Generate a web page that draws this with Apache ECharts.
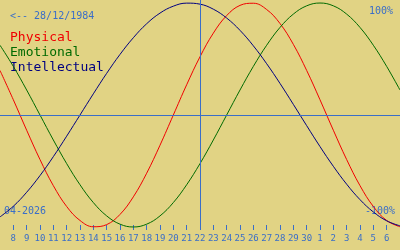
<!DOCTYPE html>
<html>
<head>
<meta charset="utf-8">
<script src="https://cdn.jsdelivr.net/npm/echarts@6/dist/echarts.min.js"></script>
<style>
html,body{margin:0;padding:0;background:#e1d384;}
#c{width:400px;height:250px;}
</style>
</head>
<body>
<div id="c"></div>
<script>
// Day labels: 7 April .. 7 May (first and last sit on the edges, unlabeled)
const dayLabels = ["7","8","9","10","11","12","13","14","15","16","17","18","19","20","21","22","23","24","25","26","27","28","29","30","1","2","3","4","5","6","7"];
const physical = [0.398,0.136,-0.136,-0.398,-0.631,-0.817,-0.942,-0.998,-0.979,-0.888,-0.731,-0.520,-0.270,0,0.270,0.520,0.731,0.888,0.979,0.998,0.942,0.817,0.631,0.398,0.136,-0.136,-0.398,-0.631,-0.817,-0.942,-0.998];
const emotional = [0.623,0.434,0.223,0,-0.223,-0.434,-0.623,-0.782,-0.901,-0.975,-1,-0.975,-0.901,-0.782,-0.623,-0.434,-0.223,0,0.223,0.434,0.623,0.782,0.901,0.975,1,0.975,0.901,0.782,0.623,0.434,0.223];
const intellectual = [-0.910,-0.815,-0.690,-0.541,-0.372,-0.189,0,0.189,0.372,0.541,0.690,0.815,0.910,0.972,0.999,0.990,0.945,0.866,0.756,0.618,0.458,0.282,0.095,-0.095,-0.282,-0.458,-0.618,-0.756,-0.866,-0.945,-0.990];
const todayIndex = 15;
const birthText = "<-- 28/12/1984";
const monthText = "04-2026";
const legendNames = ["Physical","Emotional","Intellectual"];
const colors = ["#f00000","#006a00","#000080"];
const accent = "#3a6ec8";
const mono = "DejaVu Sans Mono";

const chart = echarts.init(document.getElementById('c'), null, {renderer:'canvas'});
const lastIdx = dayLabels.length - 1;
const mk = (name, data, color, extra) => Object.assign({
  name, type:'line', data, smooth:0.4, symbol:'none',
  lineStyle:{color, width:1}, itemStyle:{color}, animation:false, z:3
}, extra||{});

chart.setOption({
  backgroundColor:'#e1d384',
  animation:false,
  grid:{left:0, right:0, top:0, height:230},
  xAxis:{
    type:'category', data:dayLabels, boundaryGap:false,
    axisLine:{show:false, onZero:false},
    axisTick:{show:true, inside:true, length:5, lineStyle:{color:accent}, interval:(i)=> i!==0 && i!==lastIdx},
    axisLabel:{color:accent, fontFamily:mono, fontSize:9, margin:4, interval:(i)=> i!==0 && i!==lastIdx},
    splitLine:{show:false}
  },
  yAxis:{type:'value', min:-1.027, max:1.027, show:false},
  series:[
    mk(legendNames[0], physical, colors[0]),
    mk(legendNames[1], emotional, colors[1]),
    mk(legendNames[2], intellectual, colors[2], {
      markLine:{
        silent:true, symbol:'none', label:{show:false},
        lineStyle:{color:accent, width:1, type:'solid'},
        data:[{xAxis:todayIndex},{yAxis:0}]
      }
    })
  ],
  graphic:[
    {type:'text', left:10, top:11, style:{text:birthText, fill:accent, font:'10px "'+mono+'"'}},
    {type:'text', left:10, top:31, style:{text:legendNames[0], fill:colors[0], font:'13px "'+mono+'"'}},
    {type:'text', left:10, top:46, style:{text:legendNames[1], fill:colors[1], font:'13px "'+mono+'"'}},
    {type:'text', left:10, top:61, style:{text:legendNames[2], fill:colors[2], font:'13px "'+mono+'"'}},
    {type:'text', right:7, top:6, style:{text:'100%', fill:accent, font:'10px "'+mono+'"'}},
    {type:'text', right:5, top:206, z:1, style:{text:'-100%', fill:accent, font:'10px "'+mono+'"'}},
    {type:'text', left:4, top:206, z:1, style:{text:monthText, fill:accent, font:'10px "'+mono+'"'}}
  ]
});
</script>
</body>
</html>
